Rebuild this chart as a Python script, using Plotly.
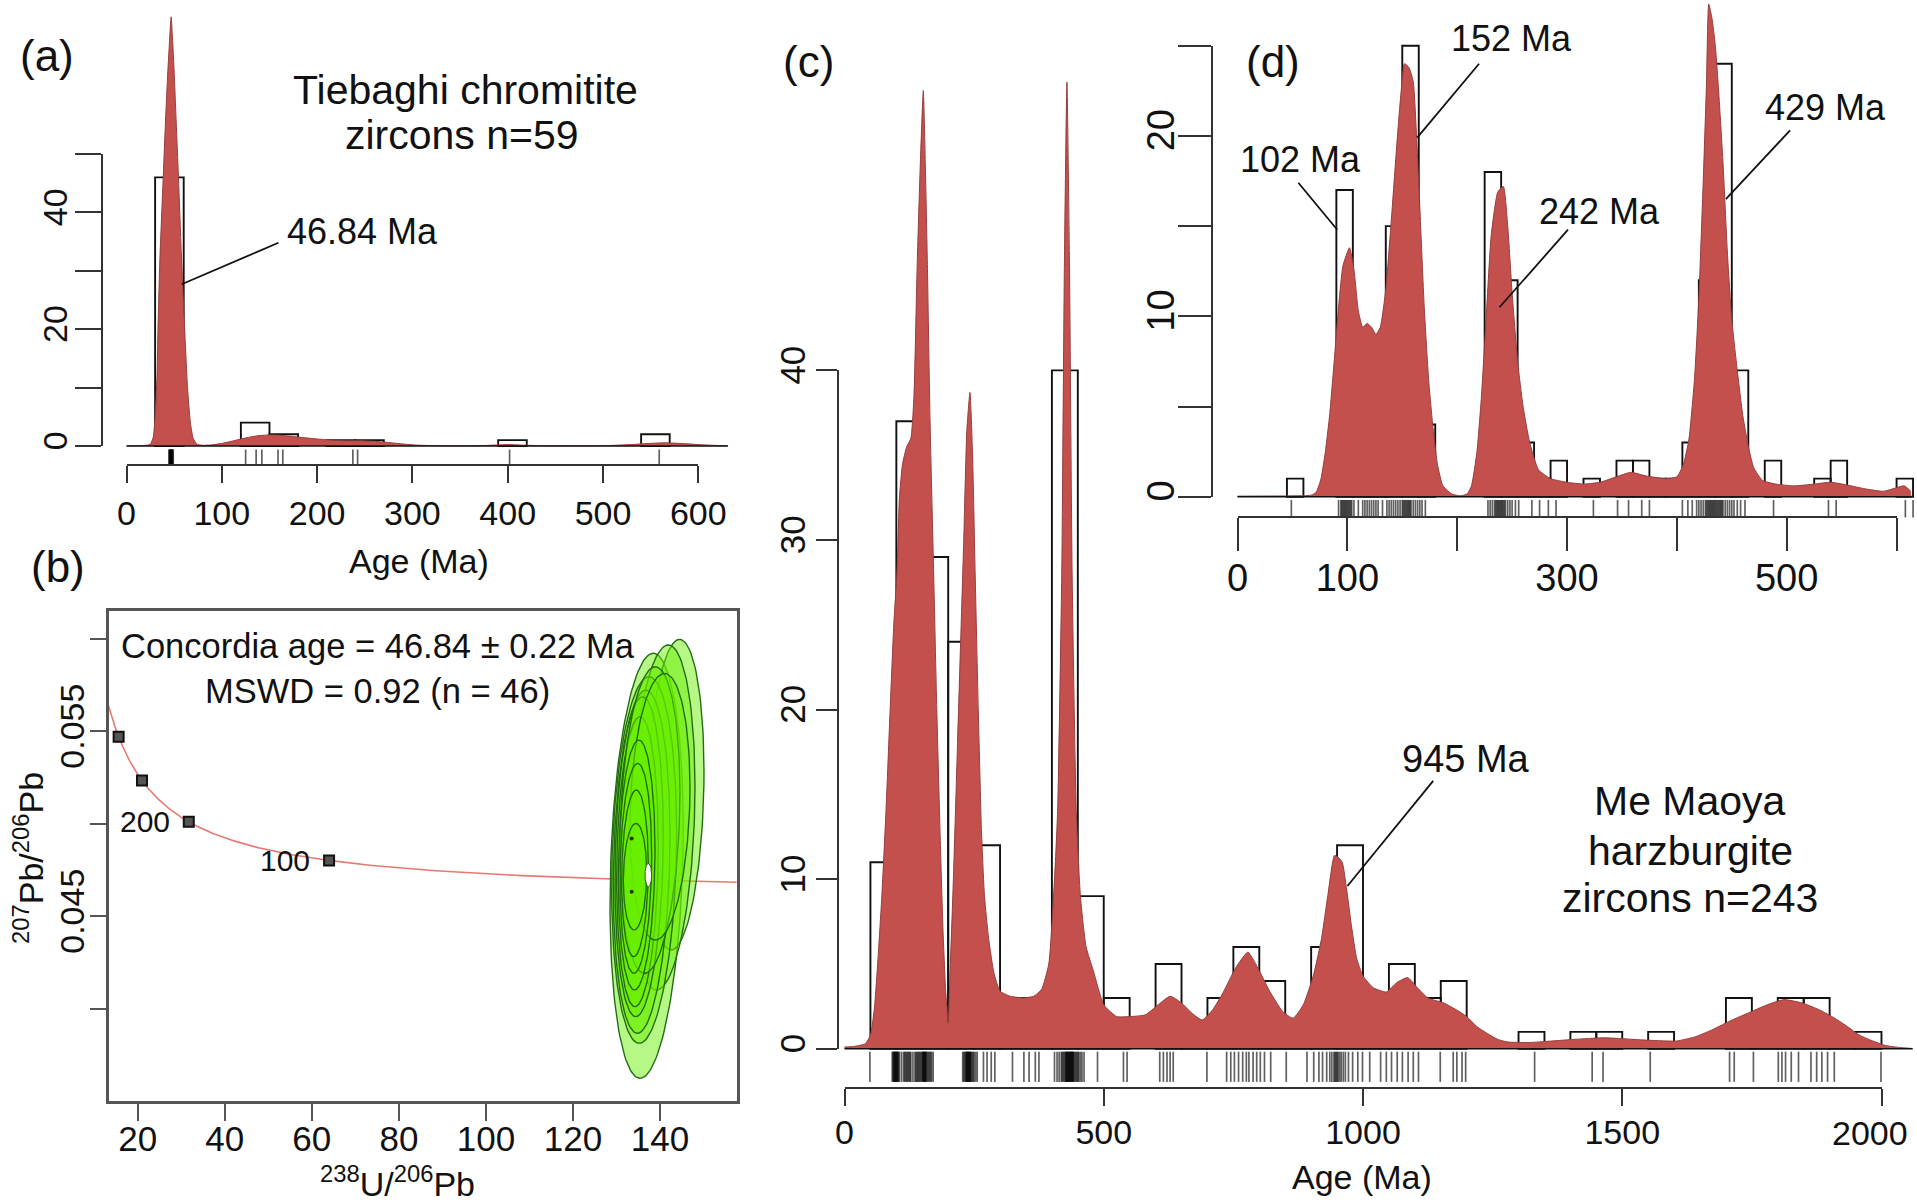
import numpy as np
import plotly.graph_objects as go

W, H = 1917, 1204
FONT = "Liberation Sans, Arial, sans-serif"
AX = "#333333"
INK = "#111111"
KDE_FILL = "rgb(196, 80, 78)"
KDE_LINE = "rgb(150, 62, 60)"

# ---------------- (a) Tiebaghi chromitite zircons ----------------
a_bin_width = 30
a_bin_left = [30, 120, 150, 210, 240, 390, 540]
a_counts = [46, 4, 2, 1, 1, 1, 2]
a_kde_age = [0, 15, 22, 25, 28, 30, 32, 33, 35, 38.5,
             41, 43, 45, 46.84, 48.5, 50, 52, 54.5, 57.5, 61,
             64, 67, 70, 74, 80, 90, 100, 110, 120, 130,
             140, 150, 160, 170, 185, 200, 215, 230, 245, 260,
             275, 290, 305, 330, 370, 392, 402, 415, 440, 500,
             530, 550, 565, 580, 600, 615, 631]
a_kde_den = [0.02, 0.05, 0.15, 0.3, 1.5, 5, 12, 20, 32, 46,
             56, 63, 69, 73.5, 69, 64, 56, 46, 33, 20,
             10, 4, 1.3, 0.3, 0.12, 0.2, 0.45, 0.8, 1.2, 1.55,
             1.8, 1.9, 1.85, 1.7, 1.45, 1.2, 1.0, 0.9, 0.9, 0.8,
             0.6, 0.35, 0.15, 0.05, 0.05, 0.2, 0.25, 0.15, 0.04, 0.05,
             0.25, 0.45, 0.55, 0.45, 0.25, 0.12, 0.05]
a_rug = [44.5, 45, 45.5, 46, 46.3, 46.6, 46.9, 47.2, 47.5, 48, 48.5, 49,
         125, 136, 142, 159, 164, 237.5, 242.5, 402, 559]
a_xticks = [0, 100, 200, 300, 400, 500, 600]
a_yticks = [0, 20, 40]
a_yminor = [10, 30, 50]

# ---------------- (b) Tera-Wasserburg concordia ----------------
LAMBDA_238 = 1.55125e-4   # per Ma
LAMBDA_235 = 9.8485e-4    # per Ma
U_RATIO = 137.88
b_marker_ages = [100, 200, 300, 400]
b_marker_text = ["100", "200", "", ""]
b_ell_cx = [136.92, 143.5, 140.55, 136.34, 135.77, 135.19, 134.81,
            137.68, 139.98, 134.62, 134.43, 134.24, 134.24]
b_ell_cy = [0.04773, 0.05157, 0.05034, 0.04804, 0.04795, 0.04822, 0.04795,
            0.05020, 0.05092, 0.04777, 0.04759, 0.04732, 0.04714]
b_ell_rx = [8.42, 6.59, 7.47, 7.47, 6.51, 5.55, 4.79,
            6.89, 6.89, 4.21, 3.64, 3.06, 2.68]
b_ell_ry = [0.01148, 0.00839, 0.00932, 0.00990, 0.00927, 0.00864, 0.00783,
            0.00828, 0.00720, 0.00675, 0.00567, 0.00450, 0.00288]
b_ell_rho = [0.18, 0.15, 0.18, 0.15, 0.15, 0.14, 0.12,
             0.18, 0.15, 0.12, 0.12, 0.10, 0.08]
b_hole = (137.3, 0.04723, 0.77, 0.00063)
b_dot_x = [133.47, 133.47]
b_dot_y = [0.04921, 0.04633]
b_xticks = [20, 40, 60, 80, 100, 120, 140]
b_yticks = [0.045, 0.055]
b_yminor = [0.040, 0.050, 0.060]

# ---------------- (c) Me Maoya harzburgite zircons ----------------
c_bin_width = 50
c_bin_left = [50, 100, 150, 200, 250, 300, 350, 400, 450, 500,
              600, 650, 700, 750, 800, 850, 900, 950, 1000, 1050,
              1100, 1150, 1300, 1400, 1450, 1550, 1700, 1750, 1800, 1850,
              1900, 1950]
c_counts = [11, 37, 29, 24, 12, 3, 3, 40, 9, 3,
            5, 1, 3, 6, 4, 1, 6, 12, 2, 5,
            3, 4, 1, 1, 1, 1, 3, 2, 3, 3,
            1, 1]
c_kde_age = [0, 20, 40, 50, 58, 65, 72, 80, 88, 95,
             101, 106, 112, 120, 128, 134, 140, 146, 152, 156,
             160, 165, 172, 178, 185, 190, 195, 200, 203, 210,
             218, 225, 230, 236, 242, 247, 252, 258, 264, 270,
             278, 288, 300, 320, 345, 365, 380, 394, 405, 411,
             419, 424, 429, 434, 439, 447, 455, 466, 480, 500,
             525, 550, 580, 605, 628, 650, 670, 690, 710, 730,
             755, 778, 800, 820, 845, 865, 885, 905, 920, 932,
             945, 952, 960, 968, 978, 988, 1000, 1020, 1045, 1065,
             1086, 1105, 1125, 1156, 1180, 1200, 1220, 1240, 1260, 1280,
             1320, 1360, 1395, 1430, 1465, 1500, 1535, 1570, 1605, 1640,
             1672, 1705, 1742, 1780, 1812, 1847, 1880, 1910, 1935, 1955,
             1980, 2007, 2035, 2060]
c_kde_den = [0.1, 0.15, 0.3, 0.8, 2.5, 5.5, 9, 14, 20, 25,
             28, 32.5, 34.5, 35.5, 36, 38.5, 46, 52, 56.5, 52,
             46, 37, 28, 20, 12, 7, 3.5, 1.5, 4, 10,
             18, 25, 30, 36.5, 38.7, 35, 28, 20, 13, 9,
             6.5, 4.5, 3.4, 3.1, 3.0, 3.1, 3.5, 5, 10, 14,
             28, 46, 57, 46, 28, 14, 9, 6, 4.6, 2.6,
             1.9, 1.9, 2.0, 2.6, 3.1, 2.7, 2.1, 1.7, 2.3, 3.3,
             4.8, 5.7, 4.6, 3.4, 2.2, 1.8, 2.6, 4.4, 6.5, 9.0,
             11.4, 11.3, 11.0, 9.5, 7.2, 5.3, 4.3, 3.6, 3.35, 3.9,
             4.2, 3.6, 3.0, 2.7, 2.3, 1.9, 1.3, 0.9, 0.55, 0.4,
             0.37, 0.45, 0.53, 0.6, 0.65, 0.6, 0.53, 0.48, 0.46, 0.7,
             1.1, 1.6, 2.1, 2.6, 2.9, 2.7, 2.3, 1.8, 1.3, 0.85,
             0.5, 0.2, 0.08, 0.02]
c_rug = [49,
         92, 94, 95, 96, 97, 98, 99, 100, 101, 102, 103, 104, 106, 110, 114,
         116, 118, 120, 122, 124, 126, 128, 132, 136, 138, 140, 142, 144, 146,
         148, 150, 151, 152, 153, 154, 155, 156, 157, 158, 160, 162, 164, 166,
         168, 171,
         228, 230, 232, 234, 235, 236, 237, 238, 239, 240, 241, 242, 243, 244,
         246, 248, 250, 253, 256,
         268, 275, 283, 290, 324, 346, 356, 368, 375,
         405, 410, 414, 418, 420, 422, 424, 426, 427, 428, 429, 430, 431, 432,
         433, 434, 435, 436, 437, 438, 439, 440, 441, 442, 444, 446, 448, 450,
         452, 455, 458, 462,
         488, 538, 545, 608, 615, 622, 628, 634, 699,
         737, 745, 752, 760, 768, 775, 780, 788, 795, 802, 810, 822, 852,
         892, 905, 915, 922, 930, 936, 940, 944, 946, 948, 950, 952, 955, 958,
         962, 966, 972, 980, 990, 999,
         1013, 1034, 1045, 1055, 1066, 1076, 1087, 1097, 1107, 1149, 1174,
         1181, 1191, 1198,
         1331, 1442, 1463, 1554, 1707, 1716, 1753, 1801, 1808, 1815, 1826,
         1840, 1864, 1875, 1885, 1896, 1909, 1999]
c_xticks = [0, 500, 1000, 1500]
c_xminor = [2000]            # last tick; its label is set just inside the page edge
c_last_label = "2000"
c_yticks = [0, 10, 20, 30, 40]

# ---------------- (d) Me Maoya, 0-600 Ma detail ----------------
d_bin_width = 15
d_bin_left = [45, 90, 105, 120, 135, 150, 165, 225, 240, 255,
              270, 285, 315, 345, 360, 375, 390, 405, 420, 435,
              450, 480, 525, 540, 600]
d_counts = [1, 17, 7, 8, 15, 25, 4, 18, 12, 3,
            1, 2, 1, 2, 2, 1, 1, 3, 12, 24,
            7, 2, 1, 2, 1]
d_kde_age = [0, 30, 60, 68, 72, 76, 80, 84, 88, 92,
             96, 102, 106, 110, 114, 118, 122, 126, 130, 135,
             140, 145, 149, 152, 156, 160, 163, 166, 170, 174,
             178, 182, 187, 195, 203, 209, 213, 218, 222, 226,
             231, 237, 242, 246, 250, 255, 260, 266, 274, 285,
             300, 315, 330, 345, 358, 372, 390, 400, 406, 411,
             416, 420, 424, 427, 429, 432, 435, 438, 442, 446,
             450, 455, 460, 465, 470, 478, 490, 507, 525, 540,
             555, 570, 588, 600, 607, 613]
d_kde_den = [0.03, 0.04, 0.05, 0.1, 0.3, 1.0, 2.5, 4.6, 7.5, 10.5,
             12.8, 13.8, 12.6, 10.3, 9.4, 9.6, 9.4, 9.0, 9.4, 11.5,
             15.3, 19.5, 22.5, 24.0, 23.8, 23.0, 20.0, 16.0, 10.5, 6.5,
             3.8, 1.8, 0.6, 0.15, 0.05, 0.15, 0.6, 2.5, 5.5, 9.5,
             14.5, 16.9, 17.2, 15.0, 11.3, 7.5, 5.0, 3.0, 1.5, 1.0,
             0.8, 0.7, 0.8, 1.1, 1.35, 1.15, 1.0, 1.1, 1.8, 3.2,
             6.5, 11.0, 17.5, 23.0, 27.3, 26.5, 25.0, 22.5, 18.5, 13.5,
             9.8, 7.0, 4.5, 2.8, 1.6, 0.9, 0.7, 0.6, 0.7, 0.8,
             0.65, 0.45, 0.3, 0.5, 0.6, 0.3]
d_rug = [v for v in c_rug if v <= 615]
d_xticks = [0, 100, 300, 500]
d_xminor = [200, 400, 600]
d_yticks = [0, 10, 20]
d_yminor = [5, 15, 25]


# ---------------- helpers ----------------
def xdom(p0, p1):
    return [p0 / W, p1 / W]


def ydom(top, bottom):
    return [1 - bottom / H, 1 - top / H]


def kde_traces(age, den, xa, ya):
    fill = go.Scatter(x=age, y=den, mode="lines", fill="tozeroy",
                      fillcolor=KDE_FILL,
                      line=dict(color=KDE_LINE, width=1, shape="spline", smoothing=0.5),
                      xaxis=xa, yaxis=ya, hoverinfo="skip")
    base = go.Scatter(x=[age[0], age[-1]], y=[0, 0], mode="lines",
                      line=dict(color=INK, width=1.6), xaxis=xa, yaxis=ya,
                      hoverinfo="skip")
    return [fill, base]


def hist_trace(left, counts, width, xa, ya):
    return go.Bar(x=[l + width / 2 for l in left], y=counts, width=width,
                  marker=dict(color="rgba(0,0,0,0)", line=dict(color=INK, width=1.9)),
                  xaxis=xa, yaxis=ya, hoverinfo="skip")


def rug_trace(ages, y0, y1, xa, ya, width=1.7):
    xs, ys = [], []
    for a in ages:
        xs += [a, a, None]
        ys += [y0, y1, None]
    return go.Scatter(x=xs, y=ys, mode="lines",
                      line=dict(color="rgba(0,0,0,0.62)", width=width),
                      xaxis=xa, yaxis=ya, hoverinfo="skip")


def hidden_axis(dom, rng, anchor):
    return dict(domain=dom, range=rng, visible=False, anchor=anchor,
                automargin=False, fixedrange=True, showgrid=False, zeroline=False)


def minor_ticks(vals, ticklen, color=AX):
    return dict(tickmode="array", tickvals=vals, ticks="outside",
                ticklen=ticklen, tickwidth=2, tickcolor=color, showgrid=False)


def r_axis(dom, rng, pos, vals, ticklen, size, minor=None, angle=0, standoff=0):
    ax = dict(domain=dom, range=rng, anchor="free", position=pos,
              automargin=False, ticklabeloverflow="allow",
              showline=True, linecolor=AX, linewidth=2,
              ticks="outside", ticklen=ticklen, tickwidth=2, tickcolor=AX,
              tickmode="array", tickvals=vals, ticktext=[str(v) for v in vals],
              tickfont=dict(size=size, family=FONT, color=INK),
              tickangle=angle, ticklabelstandoff=standoff,
              showgrid=False, zeroline=False, fixedrange=True)
    if minor:
        ax["minor"] = minor_ticks(minor, ticklen)
    return ax


def note(text, X, Y, size, angle=0):
    return dict(text=text, x=X / W, y=1 - Y / H, xref="paper", yref="paper",
                showarrow=False, xanchor="center", yanchor="middle",
                textangle=angle, font=dict(size=size, family=FONT, color=INK))


def leader(xa, ya, x0, y0, x1, y1):
    return dict(type="line", xref=xa, yref=ya, x0=x0, y0=y0, x1=x1, y1=y1,
                line=dict(color=INK, width=1.8))


fig = go.Figure()

# ---- panel (a) ----
for tr in kde_traces(a_kde_age, a_kde_den, "x", "y"):
    fig.add_trace(tr)
fig.add_trace(hist_trace(a_bin_left, a_counts, a_bin_width, "x", "y"))
fig.add_trace(rug_trace(a_rug, -0.6, -3.2, "x", "y"))
fig.add_trace(go.Scatter(x=[], y=[], xaxis="x5", yaxis="y5"))

# ---- panel (b) ----
t = np.linspace(38, 480, 500)
e8, e5 = np.exp(LAMBDA_238 * t) - 1, np.exp(LAMBDA_235 * t) - 1
fig.add_trace(go.Scatter(x=1 / e8, y=e5 / e8 / U_RATIO, mode="lines",
                         line=dict(color="rgb(230, 120, 115)", width=1.6),
                         xaxis="x2", yaxis="y2", hoverinfo="skip"))
tm = np.array(b_marker_ages, dtype=float)
m8, m5 = np.exp(LAMBDA_238 * tm) - 1, np.exp(LAMBDA_235 * tm) - 1
mx, my = 1 / m8, m5 / m8 / U_RATIO
fig.add_trace(go.Scatter(x=mx, y=my, mode="markers",
                         marker=dict(symbol="square", size=10, color="#555555",
                                     line=dict(color="#111111", width=2)),
                         xaxis="x2", yaxis="y2", hoverinfo="skip"))
th = np.linspace(0, 2 * np.pi, 140)
for cx, cy, rx, ry, rho in zip(b_ell_cx, b_ell_cy, b_ell_rx, b_ell_ry, b_ell_rho):
    ex = cx + rx * np.cos(th)
    ey = cy + ry * (rho * np.cos(th) + np.sqrt(1 - rho ** 2) * np.sin(th))
    fig.add_trace(go.Scatter(x=ex, y=ey, mode="lines", fill="toself",
                             fillcolor="rgba(105, 238, 0, 0.48)",
                             line=dict(color="rgb(35, 110, 20)", width=1.4),
                             xaxis="x2", yaxis="y2", hoverinfo="skip"))
hx, hy, hrx, hry = b_hole
fig.add_trace(go.Scatter(x=hx + hrx * np.cos(th), y=hy + hry * np.sin(th),
                         mode="lines", fill="toself", fillcolor="white",
                         line=dict(color="rgb(40, 100, 20)", width=1),
                         xaxis="x2", yaxis="y2", hoverinfo="skip"))
fig.add_trace(go.Scatter(x=b_dot_x, y=b_dot_y, mode="markers",
                         marker=dict(size=4, color="#1a3a10"),
                         xaxis="x2", yaxis="y2", hoverinfo="skip"))

# ---- panel (c) ----
for tr in kde_traces(c_kde_age, c_kde_den, "x3", "y3"):
    fig.add_trace(tr)
fig.add_trace(hist_trace(c_bin_left, c_counts, c_bin_width, "x3", "y3"))
fig.add_trace(rug_trace(c_rug, -0.17, -1.95, "x3", "y3"))
fig.add_trace(go.Scatter(x=[], y=[], xaxis="x6", yaxis="y6"))

# ---- panel (d) ----
for tr in kde_traces(d_kde_age, d_kde_den, "x4", "y4"):
    fig.add_trace(tr)
fig.add_trace(hist_trace(d_bin_left, d_counts, d_bin_width, "x4", "y4"))
fig.add_trace(rug_trace(d_rug, -0.18, -1.15, "x4", "y4"))
fig.add_trace(go.Scatter(x=[], y=[], xaxis="x7", yaxis="y7"))

layout = dict(
    template="none",
    width=W, height=H, autosize=False,
    margin=dict(l=0, r=0, t=0, b=0, pad=0, autoexpand=False),
    paper_bgcolor="white", plot_bgcolor="rgba(0,0,0,0)",
    showlegend=False, barmode="overlay",
    font=dict(family=FONT, color=INK),
    # data frames
    xaxis=hidden_axis(xdom(117.0, 736.4), [-10, 640], "y"),
    yaxis=hidden_axis(ydom(0, 469.36), [-4, 76.37], "x"),
    xaxis3=hidden_axis(xdom(835, 1917), [-18.32, 2068.5], "y3"),
    yaxis3=hidden_axis(ydom(0, 1086), [-2.193, 61.84], "x3"),
    xaxis4=hidden_axis(xdom(1230, 1917), [-6.83, 618.6], "y4"),
    yaxis4=hidden_axis(ydom(0, 520), [-1.292, 27.533], "x4"),
    # panel (b) boxed axes
    xaxis2=dict(domain=xdom(109, 736.6), range=[13.41, 157.58], anchor="y2",
                automargin=False,
                showline=True, mirror=True, linecolor="#555555", linewidth=2.5,
                ticks="outside", ticklen=17, tickwidth=2, tickcolor="#555555",
                tickmode="array", tickvals=b_xticks,
                tickfont=dict(size=35, family=FONT, color=INK),
                ticklabelstandoff=-12,
                showgrid=False, zeroline=False, fixedrange=True),
    yaxis2=dict(domain=ydom(611, 1101.4), range=[0.035, 0.061494], anchor="x2",
                automargin=False,
                showline=True, mirror=True, linecolor="#555555", linewidth=2.5,
                ticks="outside", ticklen=16, tickwidth=2, tickcolor="#555555",
                tickmode="array", tickvals=b_yticks,
                ticktext=["%.3f" % v for v in b_yticks],
                minor=minor_ticks(b_yminor, 16, "#555555"),
                tickangle=-90, tickfont=dict(size=34, family=FONT, color=INK),
                ticklabelstandoff=-7,
                showgrid=False, zeroline=False, fixedrange=True),
    # R-style detached axes
    xaxis5=r_axis(xdom(126.5, 698.3), [0, 600], 1 - 465 / H, a_xticks,
                  16.5, 34, standoff=2),
    yaxis5=r_axis(ydom(154, 446), [0, 50], 101.5 / W, a_yticks,
                  26, 34, minor=a_yminor, angle=-90, standoff=-6),
    xaxis6=r_axis(xdom(844.5, 1881.5), [0, 2000], 1 - 1087.5 / H, c_xticks,
                  17.5, 34, minor=c_xminor, standoff=-3),
    yaxis6=r_axis(ydom(370.4, 1048.8), [0, 40], 837.5 / W, c_yticks,
                  21, 35, angle=-90, standoff=-3),
    xaxis7=r_axis(xdom(1237.5, 1896.5), [0, 600], 1 - 517.4 / H, d_xticks,
                  33, 38, minor=d_xminor, standoff=-6),
    yaxis7=r_axis(ydom(45.7, 496.7), [0, 25], 1211.6 / W, d_yticks,
                  32.5, 38, minor=d_yminor, angle=-90, standoff=-11),
)

annotations = [
    note("(a)", 47, 56, 44),
    note("Tiebaghi chromitite", 465, 90, 41),
    note("zircons n=59", 462, 135, 41),
    note("46.84 Ma", 362, 231, 36),
    note("Age (Ma)", 419, 561, 34),
    note("(b)", 58, 567, 44),
    note("Concordia age = 46.84 \u00b1 0.22 Ma", 378, 646, 34.5),
    note("MSWD = 0.92 (n = 46)", 377, 691, 34.5),
    note("<sup>207</sup>Pb/<sup>206</sup>Pb", 29, 858, 34, angle=-90),
    note("<sup>238</sup>U/<sup>206</sup>Pb", 397, 1181, 34),
    note("(c)", 808, 61, 44),
    note("945 Ma", 1466, 759, 38),
    note("Me Maoya", 1690, 801, 41),
    note("harzburgite", 1690, 851, 41),
    note("zircons n=243", 1690, 898, 41),
    note("Age (Ma)", 1362, 1177, 34),
    note(c_last_label, 1870, 1133, 34),
    note("(d)", 1273, 61, 44),
    note("102 Ma", 1300, 160, 36),
    note("152 Ma", 1511, 39, 36),
    note("242 Ma", 1599, 212, 36),
    note("429 Ma", 1825, 107, 36),
]
# age labels beside the concordia markers
for x, y, txt in zip(mx, my, b_marker_text):
    if txt:
        annotations.append(dict(text=txt, x=x, y=y, xref="x2", yref="y2",
                                showarrow=False, xanchor="right", yanchor="middle",
                                xshift=-17, font=dict(size=30, family=FONT, color=INK)))

shapes = [
    leader("x", "y", 159.4, 34.8, 57.9, 27.7),
    leader("x3", "y3", 1135.4, 15.8, 970.0, 9.6),
    leader("x4", "y4", 55.4, 17.4, 90.8, 14.8),
    leader("x4", "y4", 219.9, 24.0, 163.6, 19.9),
    leader("x4", "y4", 300.9, 14.8, 238.5, 10.5),
    leader("x4", "y4", 503.0, 20.3, 444.6, 16.5),
]

fig.update_layout(**layout, annotations=annotations, shapes=shapes)
fig.write_html("out.html")
